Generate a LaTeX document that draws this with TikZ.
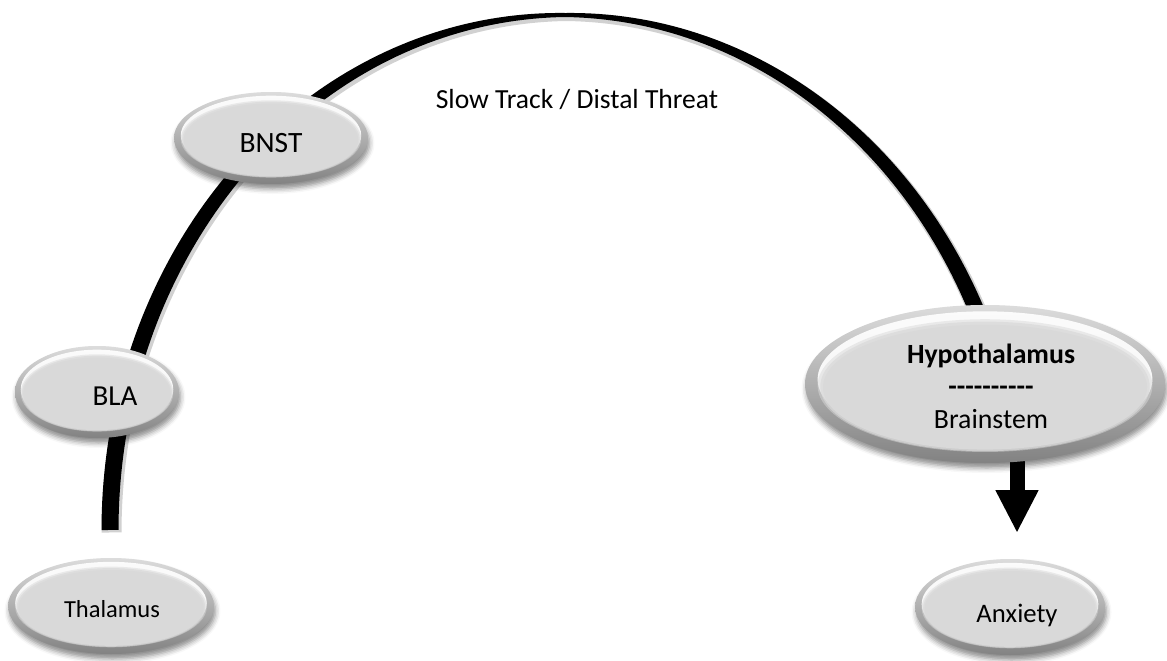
\documentclass[tikz,border=0pt]{standalone}
\usepackage{fontspec}
\setmainfont{Carlito}
\usetikzlibrary{shapes.geometric, arrows.meta, shadows.blur, backgrounds}

\definecolor{rimtop}{HTML}{DCDCDC}
\definecolor{rimmid}{HTML}{ADADAD}
\definecolor{rimbot}{HTML}{828282}
\definecolor{face}{HTML}{D9D9D9}

% width of the tapered track at angle #1
\newcommand\trackw[1]{(4+13*abs(cos(#1)))}

\tikzset{
  bevel/.style 2 args={
    ellipse, inner sep=0pt,
    minimum width=2*#1pt, minimum height=2*#2pt,
    top color=rimtop, middle color=rimmid, bottom color=rimbot,
    blur shadow={shadow xshift=1.5pt, shadow yshift=-5pt,
                 shadow blur radius=5pt, shadow opacity=45},
    path picture={
      \begin{scope}[shift={(path picture bounding box.center)}]
        \fill[white, opacity=.9] (0,-0.06*#2) ellipse [x radius=0.93*#1, y radius=0.86*#2];
        \fill[face, opacity=.5] (0,0.02*#2) ellipse [x radius=0.93*#1, y radius=0.84*#2];
        \fill[face, opacity=.7] (0,0.03*#2) ellipse [x radius=0.915*#1, y radius=0.82*#2];
        \fill[face] (0,0.04*#2) ellipse [x radius=0.9*#1, y radius=0.79*#2];
      \end{scope}}},
  tag/.style={font=\fontsize{#1}{32.5}\selectfont, text=black, align=center, inner sep=0pt},
  tag/.default=24,
  track/.style={fill=black},
  trackshadow/.style={fill=black, opacity=.18},
  pointer/.style={line width=15pt, -{Triangle[width=40pt,length=43pt]}},
}

\begin{document}
\begin{tikzpicture}[x=1pt, y=-1pt]
\useasboundingbox (0,0) rectangle (1167,661);

% nodes of the pathway
\node[bevel={103}{48}, label={[tag=24.5, anchor=base, xshift=1pt, yshift=-3pt]center:Thalamus}] (thal) at (111,606) {};
\node[bevel={82}{46}, label={[tag=29, anchor=base, xshift=18pt, yshift=-4pt]center:BLA}] (bla) at (97,392) {};
\node[bevel={97}{46}, label={[tag=29.5, anchor=base, yshift=-5pt]center:BNST}] (bnst) at (271,138) {};
\node[bevel={180}{79}, label={[tag=27.8, xshift=6pt, yshift=-2pt]center:{\textbf{Hypothalamus}\\
   \textbf{\mbox{-}\mbox{-}\mbox{-}\mbox{-}\mbox{-}\mbox{-}\mbox{-}\mbox{-}\mbox{-}\mbox{-}}\\Brainstem}}] (hypo) at (985,384) {};
\node[bevel={95}{48}, label={[tag=26.7, anchor=base, xshift=7pt, yshift=-8pt]center:Anxiety}] (anx) at (1010,607) {};

\node[tag=27.6, anchor=base] (slow) at (577,108) {Slow Track / Distal Threat};

\coordinate (tip) at (1017,533);

\begin{scope}[on background layer]
  % soft halo under the track
  \fill[trackshadow, shift={(1.5,2.5)}]
    plot[domain=180:24, samples=150, variable=\t]
      ({565+(455+\trackw{\t}/2+1.5)*cos(\t)}, {530-(515+\trackw{\t}/2+1.5)*sin(\t)})
    -- plot[domain=24:180, samples=150, variable=\t]
      ({565+(455-\trackw{\t}/2-1.5)*cos(\t)}, {530-(515-\trackw{\t}/2-1.5)*sin(\t)})
    -- cycle;
  % tapered slow track from the thalamus to the hypothalamus
  \fill[track]
    plot[domain=180:24, samples=150, variable=\t]
      ({565+(455+\trackw{\t}/2)*cos(\t)}, {530-(515+\trackw{\t}/2)*sin(\t)})
    -- plot[domain=24:180, samples=150, variable=\t]
      ({565+(455-\trackw{\t}/2)*cos(\t)}, {530-(515-\trackw{\t}/2)*sin(\t)})
    -- cycle;
  % output arrow towards anxiety
  \draw[pointer] (hypo.center -| tip) -- (tip);
\end{scope}
\end{tikzpicture}
\end{document}
